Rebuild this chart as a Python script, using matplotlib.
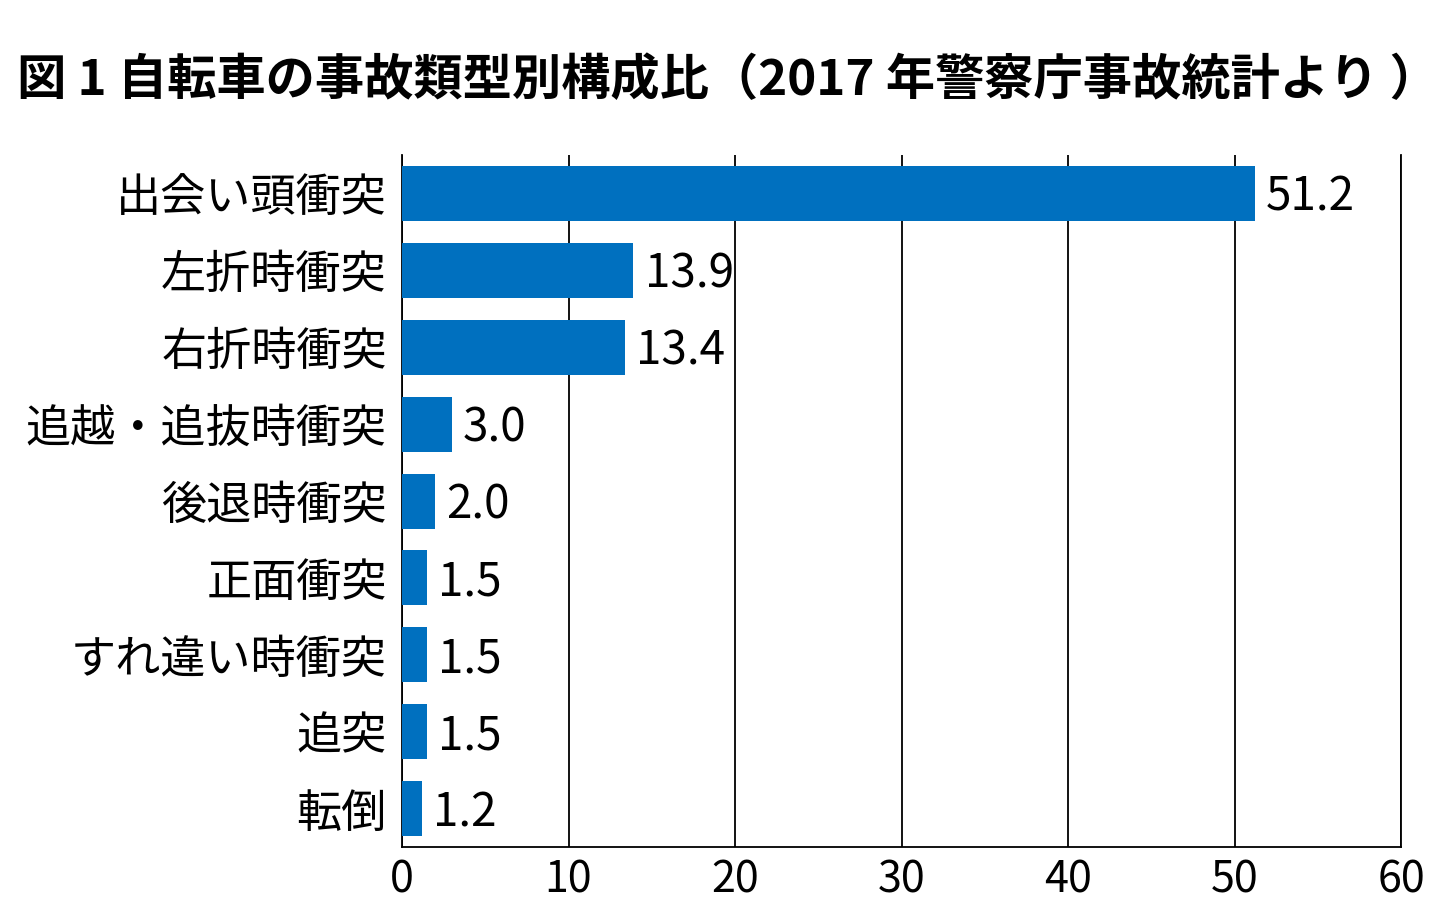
import matplotlib
matplotlib.use("Agg")
import matplotlib.pyplot as plt

plt.rcParams['font.family'] = ['Noto Sans CJK JP', 'DejaVu Sans']

# データ (2017 年警察庁事故統計)
categories = ['出会い頭衝突', '左折時衝突', '右折時衝突', '追越・追抜時衝突',
              '後退時衝突', '正面衝突', 'すれ違い時衝突', '追突', '転倒']
values = [51.2, 13.9, 13.4, 3.0, 2.0, 1.5, 1.5, 1.5, 1.2]
value_labels = ['51.2', '13.9', '13.4', '3.0', '2.0', '1.5', '1.5', '1.5', '1.2']
xticks = [0, 10, 20, 30, 40, 50, 60]

fig = plt.figure(figsize=(14.52, 9.19), dpi=100)
ax = fig.add_axes([0.2769, 0.0783, 0.688, 0.753])

pos = list(range(len(categories)))
bars = ax.barh(pos, values, height=0.715, color='#0070bf', zorder=3)

for b, lab in zip(bars, value_labels):
    ax.annotate(lab, (b.get_width(), b.get_y() + b.get_height() / 2),
                xytext=(8, -3), textcoords='offset points',
                ha='left', va='center', fontsize=33)

ax.set_xlim(0, 60)
ax.set_ylim(8.5, -0.5)
ax.set_yticks(pos)
ax.set_yticklabels(categories, fontsize=32.5)
ax.set_xticks(xticks)
ax.set_xticklabels([str(t) for t in xticks], fontsize=31)
ax.tick_params(length=0)
ax.tick_params(axis='y', pad=11)
ax.tick_params(axis='x', pad=8)

ax.grid(axis='x', color='black', lw=1.3, zorder=1)
ax.spines['top'].set_visible(False)
for s in ['left', 'bottom', 'right']:
    ax.spines[s].set_color('black')
    ax.spines[s].set_linewidth(1.3)

fig.text(0.012, 0.897, '図 1 自転車の事故類型別構成比（2017 年警察庁事故統計より ）',
         fontsize=35.5, fontweight='bold', ha='left', va='baseline')

fig.savefig('out.png', dpi=100)
